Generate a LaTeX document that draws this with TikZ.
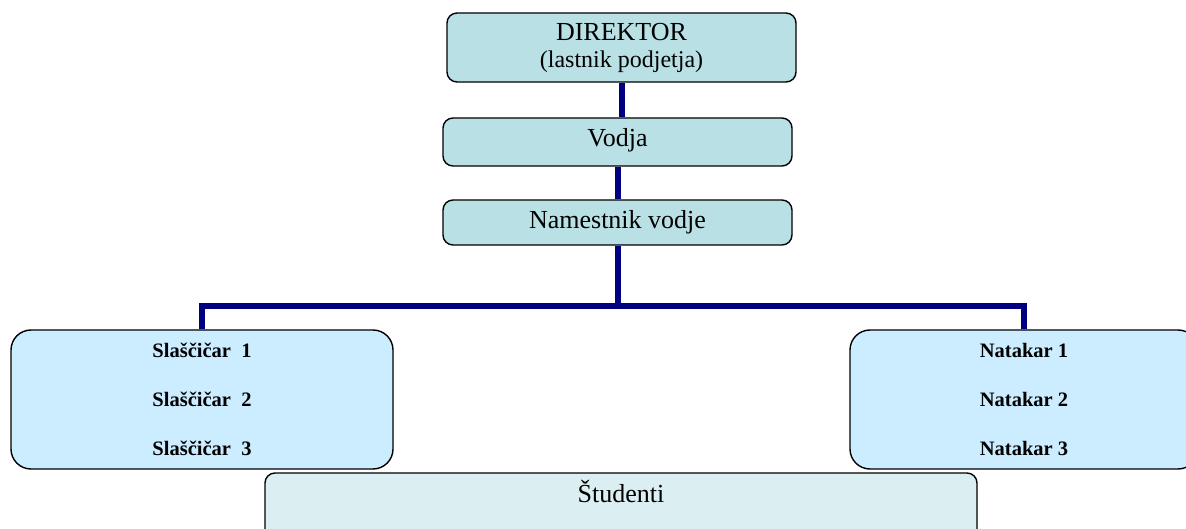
\documentclass[tikz,border=0pt]{standalone}
\usepackage{fontspec}
\setmainfont{Liberation Serif}
\definecolor{topfill}{RGB}{185,224,228}
\definecolor{sidefill}{RGB}{204,236,255}
\definecolor{studfill}{RGB}{219,239,242}
\definecolor{navyline}{RGB}{0,0,128}
\tikzset{
  boxbase/.style={draw=black, line width=1.4pt, inner sep=0pt, align=center},
  topbox/.style={boxbase, rounded corners=10pt, fill=topfill, minimum width=349pt,
    font=\fontsize{26}{24}\selectfont},
  sidebox/.style={boxbase, rounded corners=20pt, fill=sidefill, minimum height=139pt,
    font=\bfseries\fontsize{20.5}{49}\selectfont},
  studbox/.style={boxbase, rounded corners=10pt, fill=studfill,
    font=\fontsize{26}{24}\selectfont},
  conn/.style={draw=navyline, line width=6pt}
}
\begin{document}
\begin{tikzpicture}[x=1pt,y=-1pt]
\useasboundingbox (0,0) rectangle (1186,529);
\clip (0,0) rectangle (1186,529);
\node[topbox, minimum height=69pt] (dir) at (621.5,47.5)
  {DIREKTOR\\[3pt]{\fontsize{24}{24}\selectfont (lastnik podjetja)}};
\node[topbox, minimum height=48pt, text height=16pt, text depth=6pt] (vod) at (617.5,142) {Vodja};
\node[topbox, minimum height=45pt, text height=18pt, text depth=5pt] (nam) at (617.5,222.5) {Namestnik vodje};
\node[sidebox, minimum width=382pt] (sla) at (202,399.5)
  {Slaščičar\ \ 1\\Slaščičar\ \ 2\\Slaščičar\ \ 3};
\node[sidebox, minimum width=348pt] (nat) at (1024,399.5)
  {Natakar 1\\Natakar 2\\Natakar 3};
\node[studbox, minimum width=712pt, minimum height=72pt, text height=18pt, text depth=32pt] (stu) at (621,509) {Študenti};
\coordinate (bus) at (617.5,306);
\draw[conn] (dir.south) -- (dir.south |- vod.north);
\draw[conn] (vod.south) -- (nam.north);
\draw[conn] (nam.south) -- (bus);
\draw[conn] (sla.north) |- (bus) -| (nat.north);
\end{tikzpicture}
\end{document}
